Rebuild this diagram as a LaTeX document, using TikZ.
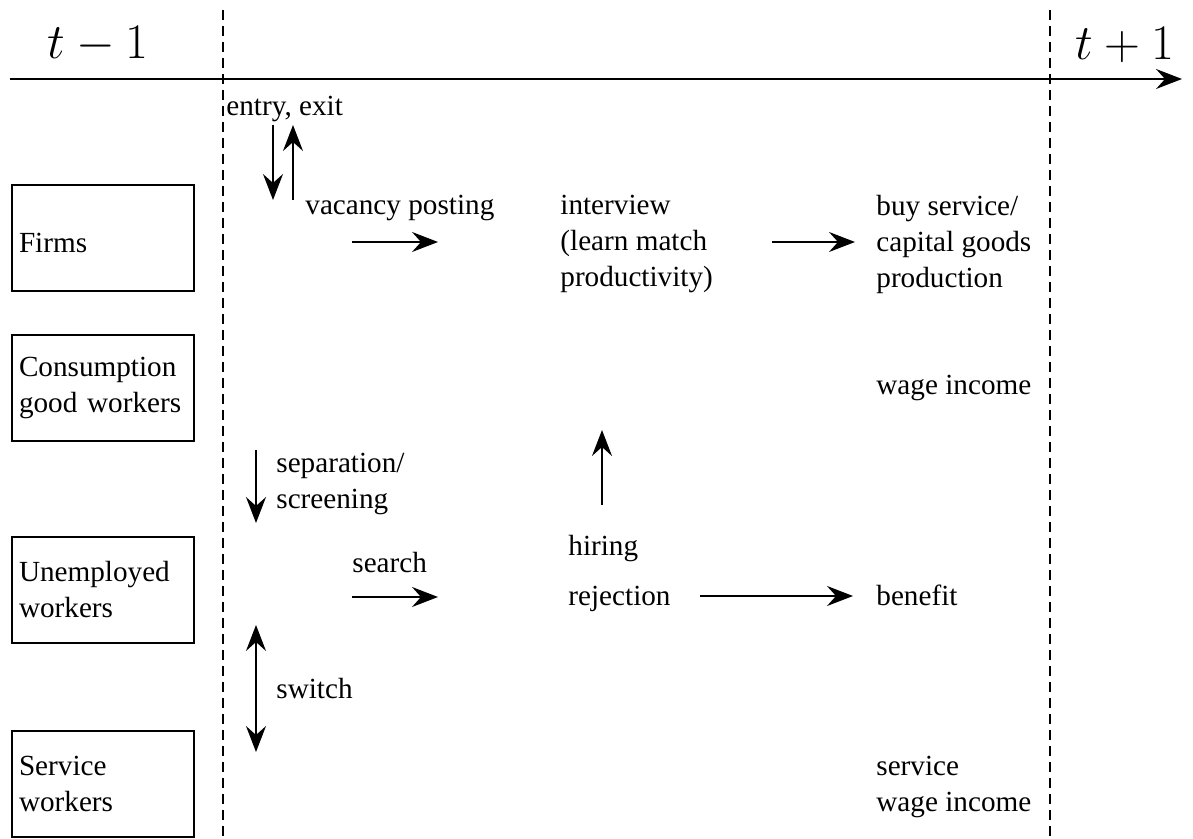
\documentclass[tikz,border=0pt]{standalone}
\usepackage{fontspec}
\setmainfont{Liberation Serif}
\usetikzlibrary{arrows.meta}

\tikzset{
    stage/.style={draw, line width=1pt, minimum width=91pt, minimum height=53pt,
        text width=84pt, inner xsep=3.5pt, align=left},
    lbl/.style={inner sep=0pt, anchor=west, align=left},
    flow/.style={line width=0.9pt, -{Stealth[length=13pt,width=10pt,inset=4.5pt]}},
    twoway/.style={line width=0.9pt, {Stealth[length=13pt,width=10pt,inset=4.5pt]}-{Stealth[length=13pt,width=10pt,inset=4.5pt]}},
    period/.style={line width=0.9pt, dash pattern=on 5pt off 3pt}
}

\begin{document}
\begin{tikzpicture}[x=0.5pt, y=-0.5pt, font=\fontsize{14.6}{18}\selectfont]
    \useasboundingbox (0,0) rectangle (1193,839);

    % Time axis and period marks
    \coordinate (axisL) at (10,79);
    \coordinate (axisR) at (1182,79);
    \draw[flow] (axisL) -- (axisR);
    \node[font=\fontsize{24}{26}\selectfont] (tprev) at (98,45) {$t-1$};
    \node[font=\fontsize{24}{26}\selectfont] (tnext) at (1125,45) {$t+1$};
    \foreach \x in {223,1050} {
        \coordinate (top\x) at (\x,10);
        \coordinate (bot\x) at (\x,839);
        \draw[period] (top\x) -- (bot\x);
    }

    % Agents
    \node[stage, text height=14.5pt, text depth=0pt] (firms) at (103,238) {Firms};
    \foreach \name/\y/\txt in {cons/388/{Consumption\\good workers},
                                unemp/590/{Unemployed\\workers}, serv/784/{Service\\workers}} {
        \node[stage] (\name) at (103,\y) {\txt};
    }

    % Events within the period
    \node[lbl] (entry) at (226,109) {entry, exit};
    \node[lbl] (vacancy) at (305,208) {vacancy posting};
    \node[lbl] (interview) at (560,244) {interview\\(learn match\\productivity)};
    \node[lbl] (buy) at (876,244) {buy service/\\capital goods\\production};
    \node[lbl] (wage) at (876,388) {wage income};
    \node[lbl] (separation) at (276,484) {separation/\\screening};
    \node[lbl] (search) at (352,563) {search};
    \node[lbl] (hiring) at (568,549) {hiring};
    \node[lbl] (rejection) at (568,599) {rejection};
    \node[lbl] (benefit) at (876,595) {benefit};
    \node[lbl] (switch) at (276,689) {switch};
    \node[lbl] (servwage) at (876,787) {service\\wage income};

    % Flows
    \coordinate (entryA) at (273,125);
    \coordinate (entryB) at (273,200);
    \draw[flow] (entryA) -- (entryB);
    \coordinate (exitA) at (293,200);
    \coordinate (exitB) at (293,125);
    \draw[flow] (exitA) -- (exitB);
    \coordinate (vacA) at (352,242);
    \coordinate (vacB) at (438,242);
    \draw[flow] (vacA) -- (vacB);
    \coordinate (intA) at (772,242);
    \coordinate (intB) at (855,242);
    \draw[flow] (intA) -- (intB);
    \coordinate (hireA) at (602,505);
    \coordinate (hireB) at (602,430);
    \draw[flow] (hireA) -- (hireB);
    \coordinate (sepA) at (256,450);
    \coordinate (sepB) at (256,523);
    \draw[flow] (sepA) -- (sepB);
    \coordinate (searchA) at (352,597);
    \coordinate (searchB) at (438,597);
    \draw[flow] (searchA) -- (searchB);
    \coordinate (rejA) at (700,596);
    \coordinate (rejB) at (853,596);
    \draw[flow] (rejA) -- (rejB);
    \coordinate (switchA) at (256,625);
    \coordinate (switchB) at (256,752);
    \draw[twoway] (switchA) -- (switchB);

\end{tikzpicture}
\end{document}
